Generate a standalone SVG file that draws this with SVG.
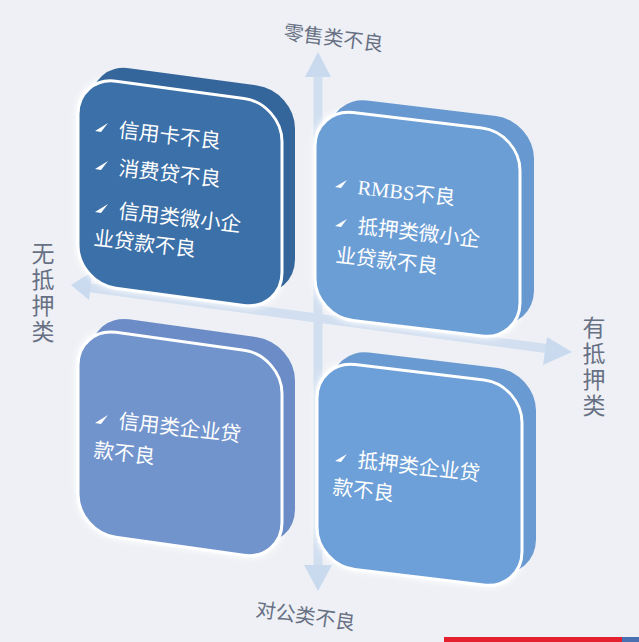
<svg xmlns="http://www.w3.org/2000/svg" width="639" height="642" viewBox="0 0 639 642">
<style>
.lbl{font-family:"Noto Sans CJK SC","Noto Sans",sans-serif;font-size:20px;fill:#687084}
.vl{font-family:"Noto Sans CJK SC","Noto Sans",sans-serif;font-size:23px;fill:#687084;writing-mode:vertical-rl;letter-spacing:3px}
.bt{font-family:"Noto Sans CJK SC","Noto Sans",sans-serif;font-size:20.5px;fill:#ffffff}
.serif{font-family:"Liberation Serif","Noto Sans CJK SC",serif}
.front{stroke:#ffffff;stroke-width:3}
.bul{fill:#ffffff}
.axis{stroke:#d2dff0;stroke-width:9;fill:none;stroke-linecap:butt}
.head{fill:#c9daef}
</style>
<defs>
<filter id="glow" x="-10%" y="-10%" width="120%" height="120%">
<feGaussianBlur stdDeviation="3"/>
</filter>
</defs>
<rect width="639" height="642" fill="#eef0f5"/>
<g id="connectors">
<line class="axis" x1="318" y1="74" x2="318" y2="568"/>
<line class="axis" x1="88" y1="287.5" x2="550" y2="349"/>
<polygon class="head" points="318,52 305,77 331,77"/>
<polygon class="head" points="318,591 304,565 332,565"/>
<polygon class="head" points="71,285 92,272 89,300"/>
<polygon class="head" points="572,352 547,337 543,365"/>
</g>
<g id="box-tl">
<rect x="-2" y="-2" width="208" height="211" rx="40" transform="matrix(1,0.135,0,1,78,76)" fill="#ffffff" filter="url(#glow)"/>
<rect width="204" height="207" rx="38" transform="matrix(1,0.135,0,1,91,63)" fill="#34669b"/>
<rect class="front" width="204" height="207" rx="38" transform="matrix(1,0.135,0,1,78,76)" fill="#3c70a8"/>
<polygon class="bul" points="95,131 108,123 101,132"/>
<polygon class="bul" points="95,169 108,161 101,170"/>
<polygon class="bul" points="95,212 108,204 101,213"/>
<text class="bt" x="118" y="137" transform="rotate(6.5,118,137)">信用卡不良</text>
<text class="bt" x="118" y="175" transform="rotate(6.5,118,175)">消费贷不良</text>
<text class="bt" x="118" y="218" transform="rotate(6.5,118,218)">信用类微小企</text>
<text class="bt" x="93" y="245" transform="rotate(6.5,93,245)">业贷款不良</text>
</g>
<g id="box-tr">
<rect x="-2" y="-2" width="209" height="212" rx="40" transform="matrix(1,0.12,0,1,315,108)" fill="#ffffff" filter="url(#glow)"/>
<rect width="205" height="208" rx="38" transform="matrix(1,0.12,0,1,329,96)" fill="#6898d0"/>
<rect class="front" width="205" height="208" rx="38" transform="matrix(1,0.12,0,1,315,108)" fill="#6c9ed6"/>
<polygon class="bul" points="335,187 347,180 341,188"/>
<polygon class="bul" points="335,226 347,219 341,227"/>
<text class="bt" x="357" y="194" transform="rotate(6.5,357,194)"><tspan class="serif">RMBS</tspan>不良</text>
<text class="bt" x="357" y="233" transform="rotate(6.5,357,233)">抵押类微小企</text>
<text class="bt" x="335" y="262" transform="rotate(6.5,335,262)">业贷款不良</text>
</g>
<g id="box-bl">
<rect x="-2" y="-2" width="208" height="209" rx="40" transform="matrix(1,0.14,0,1,78,327)" fill="#ffffff" filter="url(#glow)"/>
<rect width="204" height="205" rx="38" transform="matrix(1,0.14,0,1,91,314)" fill="#6b8cc6"/>
<rect class="front" width="204" height="205" rx="38" transform="matrix(1,0.14,0,1,78,327)" fill="#7294cd"/>
<polygon class="bul" points="95,423 108,415 101,424"/>
<text class="bt" x="118" y="428" transform="rotate(6.5,118,428)">信用类企业贷</text>
<text class="bt" x="93" y="457" transform="rotate(6.5,93,457)">款不良</text>
</g>
<g id="box-br">
<rect x="-2" y="-2" width="209" height="209" rx="40" transform="matrix(1,0.12,0,1,317,360)" fill="#ffffff" filter="url(#glow)"/>
<rect width="205" height="205" rx="38" transform="matrix(1,0.12,0,1,331,348)" fill="#6a9ad2"/>
<rect class="front" width="205" height="205" rx="38" transform="matrix(1,0.12,0,1,317,360)" fill="#6d9fd8"/>
<polygon class="bul" points="335,461 347,454 341,462"/>
<text class="bt" x="357" y="467" transform="rotate(6.5,357,467)">抵押类企业贷</text>
<text class="bt" x="332" y="494" transform="rotate(6.5,332,494)">款不良</text>
</g>
<g id="labels">
<text class="lbl" x="283" y="39" transform="rotate(7,283,39)">零售类不良</text>
<text class="lbl" x="255" y="616" transform="rotate(8,255,616)">对公类不良</text>
<text class="vl" x="43" y="242">无抵押类</text>
<text class="vl" x="594" y="316">有抵押类</text>
</g>
<rect x="444" y="637" width="178" height="5" fill="#e5202e"/>
<rect x="622" y="637" width="17" height="5" fill="#4a70b2"/>
</svg>
